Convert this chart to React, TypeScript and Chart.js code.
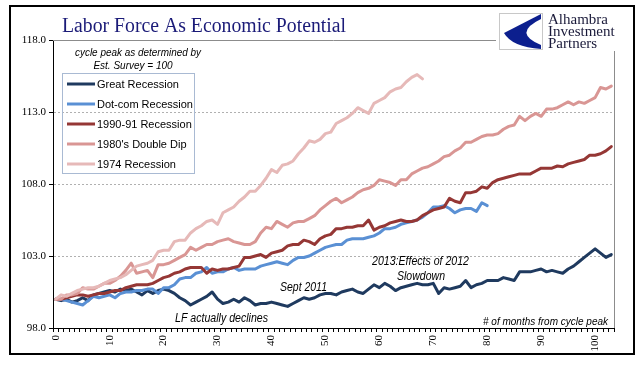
import React, { useEffect, useRef } from 'react';
import { Chart, registerables } from 'chart.js';

Chart.register(...registerables);

const months = [
  0, 1, 2, 3, 4, 5, 6, 7, 8, 9, 10, 11, 12, 13, 14, 15, 16, 17, 18, 19,
  20, 21, 22, 23, 24, 25, 26, 27, 28, 29, 30, 31, 32, 33, 34, 35, 36, 37, 38, 39,
  40, 41, 42, 43, 44, 45, 46, 47, 48, 49, 50, 51, 52, 53, 54, 55, 56, 57, 58, 59,
  60, 61, 62, 63, 64, 65, 66, 67, 68, 69, 70, 71, 72, 73, 74, 75, 76, 77, 78, 79,
  80, 81, 82, 83, 84, 85, 86, 87, 88, 89, 90, 91, 92, 93, 94, 95, 96, 97, 98, 99,
  100, 101, 102, 103,
];

const greatRecession = [
  100.0, 99.9, 100.0, 99.8, 99.9, 100.1, 99.9, 100.3, 100.4, 100.5,
  100.6, 100.5, 100.7, 100.6, 100.7, 100.5, 100.3, 100.6, 100.4, 100.6,
  100.7, 100.6, 100.4, 100.1, 99.9, 99.6, 99.8, 100.0, 100.2, 100.5,
  100.0, 99.7, 99.8, 100.0, 99.8, 100.1, 99.9, 99.6, 99.7, 99.7,
  99.8, 99.7, 99.6, 99.5, 99.7, 99.9, 100.1, 100.0, 100.1, 100.3,
  100.4, 100.4, 100.3, 100.5, 100.6, 100.7, 100.5, 100.4, 100.7, 101.0,
  100.8, 101.1, 100.9, 100.6, 100.8, 100.9, 101.0, 101.1, 101.0, 101.0,
  101.1, 100.4, 100.8, 100.7, 100.8, 100.9, 101.3, 100.8, 101.0, 101.1,
  101.3, 101.3, 101.3, 101.5, 101.4, 101.3, 101.9, 101.9, 101.9, 102.0,
  102.1, 101.9, 102.0, 101.9, 101.8, 102.1, 102.3, 102.6, 102.9, 103.2,
  103.5, 103.2, 102.9, 103.1,
];

const dotCom = [
  100.0, 100.0, 99.9, 99.8, 99.7, 99.6, 99.9, 100.2, 100.1, 100.2,
  100.3, 100.1, 100.4, 100.5, 100.5, 100.6, 100.6, 100.7, 100.7, 100.4,
  100.8, 100.8, 101.0, 101.4, 101.5, 101.5, 101.8, 101.9, 102.2, 101.8,
  101.9, 101.9, 102.1, 102.2, 102.0, 102.1, 102.1, 102.1, 102.3, 102.4,
  102.5, 102.6, 102.5, 102.4, 102.7, 102.9, 102.9, 103.0, 103.2, 103.4,
  103.6, 103.7, 103.8, 103.8, 104.1, 104.2, 104.2, 104.2, 104.3, 104.4,
  104.6, 104.9, 104.9, 105.0, 105.2, 105.3, 105.4, 105.5, 105.7, 106.0,
  106.4, 106.4, 106.5, 106.3, 106.0, 106.2, 106.3, 106.3, 106.1, 106.7,
  106.5,
];

const recession1990 = [
  100.0, 100.0, 100.1, 100.2, 100.3, 100.3, 100.2, 100.3, 100.4, 100.4,
  100.5, 100.6, 100.6, 100.8, 100.9, 101.0, 101.0, 101.0, 101.1, 101.3,
  101.5, 101.6, 101.8, 101.9, 102.1, 102.2, 102.2, 102.2, 101.8, 102.1,
  102.0, 102.1, 102.1, 102.2, 102.3, 102.9, 102.9, 103.0, 103.1, 102.9,
  103.2, 103.3, 103.4, 103.7, 103.8, 103.8, 104.1, 104.0, 103.8, 104.2,
  104.4, 104.5, 104.9, 104.9, 105.0, 105.0, 105.1, 105.1, 105.5, 104.8,
  105.0, 105.1, 105.3, 105.4, 105.5, 105.4, 105.4, 105.5, 105.8, 106.0,
  106.2, 106.3, 106.4, 107.0, 106.8, 106.7, 107.4, 107.4, 107.5, 107.8,
  107.7, 108.1, 108.3, 108.4, 108.5, 108.6, 108.7, 108.7, 108.7, 108.9,
  109.1, 109.1, 109.1, 109.25, 109.2, 109.4, 109.5, 109.6, 109.7, 110.0,
  110.0, 110.1, 110.3, 110.6,
];

const doubleDip1980 = [
  100.0, 100.0, 100.3, 100.3, 100.4, 100.8, 100.7, 100.7, 100.9, 101.1,
  101.1, 101.3, 101.6, 102.0, 102.5, 101.8, 101.9, 102.0, 101.5, 102.4,
  102.4, 102.5, 102.7, 102.9, 103.1, 103.6, 103.4, 103.6, 103.8, 103.8,
  104.0, 104.1, 104.2, 104.0, 103.9, 103.8, 103.8, 104.0, 104.6, 105.0,
  104.9, 105.4, 105.2, 105.0, 105.3, 105.4, 105.4, 105.6, 105.8, 106.2,
  106.5, 106.8, 107.0, 106.7, 106.9, 107.1, 107.4, 107.6, 107.7, 107.9,
  108.3, 108.2, 108.1, 107.9, 108.3, 108.3, 108.7, 108.9, 109.1, 109.2,
  109.4, 109.6, 109.9, 110.0, 110.3, 110.5, 110.9, 110.9, 111.1, 111.3,
  111.4, 111.4, 111.5, 111.8, 112.0, 112.1, 112.7, 112.4, 112.7, 112.9,
  112.7, 113.2, 113.2, 113.3, 113.5, 113.7, 113.5, 113.7, 113.6, 113.8,
  114.0, 114.7, 114.6, 114.8,
];

const recession1974 = [
  100.0, 100.3, 100.2, 100.4, 100.6, 100.7, 100.8, 100.8, 100.9, 101.1,
  101.3, 101.4, 101.5, 101.7, 102.0, 102.3, 102.4, 102.5, 102.7, 103.3,
  103.4, 103.4, 104.0, 104.1, 104.1, 104.6, 104.9, 105.1, 105.4, 105.5,
  105.2, 106.0, 106.2, 106.4, 106.8, 107.1, 107.5, 107.5, 107.9, 108.4,
  109.0, 108.8, 109.3, 109.4, 109.6, 110.1, 110.5, 111.0, 110.9, 111.1,
  111.5, 111.6, 112.2, 112.4, 112.6, 112.9, 113.3, 113.1, 112.9, 113.6,
  113.8, 114.0, 114.4, 114.6, 114.7, 115.1, 115.4, 115.6, 115.3,
];

const seriesNames = ['Great Recession', 'Dot-com Recession', '1990-91 Recession', "1980's Double Dip", '1974 Recession'];
const seriesColors = ['#1f3a5f', '#5a90d4', '#953735', '#d99694', '#e6b9b8'];
const seriesData = [greatRecession, dotCom, recession1990, doubleDip1980, recession1974];
const yTicks = [98, 103, 108, 113, 118];
const xTickLabels = ['0', '10', '20', '30', '40', '50', '60', '70', '80', '90', '100'];

const overlayPlugin = {
  id: 'overlay',
  beforeDraw(chart: any) {
    const ctx = chart.ctx;
    ctx.save();
    ctx.fillStyle = '#ffffff';
    ctx.fillRect(0, 0, chart.width, chart.height);
    ctx.restore();
  },
  afterDraw(chart: any) {
    const ctx = chart.ctx;
    const area = chart.chartArea;
    ctx.save();

    // plot border top / right
    ctx.strokeStyle = '#8c8c8c';
    ctx.lineWidth = 1;
    ctx.beginPath();
    ctx.moveTo(area.left, Math.round(area.top) + 0.5);
    ctx.lineTo(area.right, Math.round(area.top) + 0.5);
    ctx.moveTo(Math.round(area.right) + 0.5, area.top);
    ctx.lineTo(Math.round(area.right) + 0.5, area.bottom);
    ctx.stroke();

    // note above legend
    ctx.fillStyle = '#000000';
    ctx.font = 'italic 10px "Liberation Sans"';
    ctx.textAlign = 'center';
    ctx.textBaseline = 'middle';
    ctx.fillText('cycle peak as determined by', 138, 53, 126);
    ctx.fillText('Est. Survey = 100', 133, 66, 100);

    // legend
    ctx.strokeStyle = '#a9bad3';
    ctx.lineWidth = 1;
    ctx.strokeRect(62.5, 73.5, 132, 100);
    ctx.textAlign = 'left';
    ctx.font = '11px "Liberation Sans"';
    seriesNames.forEach((name, i) => {
      const y = 84 + i * 20;
      ctx.strokeStyle = seriesColors[i];
      ctx.lineWidth = 3;
      ctx.beginPath();
      ctx.moveTo(67, y);
      ctx.lineTo(95, y);
      ctx.stroke();
      ctx.fillStyle = '#000000';
      ctx.fillText(name, 97, y + 0.5);
    });

    // annotations
    ctx.font = 'italic 12px "Liberation Sans"';
    ctx.fillStyle = '#000000';
    ctx.textAlign = 'left';
    ctx.fillText('LF actually declines', 175, 319, 93);
    ctx.fillText('Sept 2011', 280, 288, 47);
    ctx.fillText('2013:Effects of 2012', 372, 262, 97);
    ctx.fillText('Slowdown', 397, 277, 48);
    ctx.font = 'italic 11px "Liberation Sans"';
    ctx.fillText('# of months from cycle peak', 483, 322, 125);

    // logo area
    ctx.fillStyle = '#ffffff';
    ctx.fillRect(496, 8, 134, 43);
    ctx.strokeStyle = '#c8c8c8';
    ctx.lineWidth = 1;
    ctx.strokeRect(499.5, 13.5, 43, 36);
    ctx.fillStyle = '#0c1f8e';
    ctx.beginPath();
    ctx.moveTo(541, 14);
    ctx.lineTo(504, 33);
    ctx.quadraticCurveTo(512, 47, 541, 49);
    ctx.closePath();
    ctx.fill();
    ctx.fillStyle = '#ffffff';
    ctx.beginPath();
    ctx.moveTo(541, 19);
    ctx.quadraticCurveTo(512, 33, 541, 45);
    ctx.closePath();
    ctx.fill();
    ctx.fillStyle = '#1a1a3a';
    ctx.font = '15px "Liberation Serif"';
    ctx.textBaseline = 'alphabetic';
    ctx.fillText('Alhambra', 548, 24);
    ctx.fillText('Investment', 548, 36);
    ctx.fillText('Partners', 548, 48);

    // title
    ctx.fillStyle = '#1b1b78';
    ctx.font = '20px "Liberation Serif"';
    ctx.fillText('Labor Force As Economic Potential', 62, 32, 284);

    // outer frame
    ctx.strokeStyle = '#000000';
    ctx.lineWidth = 2;
    ctx.strokeRect(10, 6, 624, 348);

    ctx.restore();
  },
};

export default function App() {
  const canvasRef = useRef<HTMLCanvasElement | null>(null);

  useEffect(() => {
    const canvas = canvasRef.current;
    if (!canvas) return;
    const order = [5, 4, 3, 2, 1];
    const chart = new Chart(canvas, {
      type: 'line',
      data: {
        labels: months.map(String),
        datasets: seriesNames.map((name, i) => ({
          label: name,
          data: seriesData[i],
          borderColor: seriesColors[i],
          backgroundColor: seriesColors[i],
          borderWidth: 3,
          pointRadius: 0,
          tension: 0,
          fill: false,
          borderJoinStyle: 'round' as const,
          borderCapStyle: 'round' as const,
          order: order[i],
        })),
      },
      options: {
        responsive: false,
        animation: false,
        devicePixelRatio: 1,
        layout: { padding: { top: 40, right: 27, left: 0, bottom: 0 } },
        plugins: {
          legend: { display: false },
          title: { display: false },
          tooltip: { enabled: false },
        },
        scales: {
          x: {
            type: 'category',
            offset: true,
            afterFit: (scale: any) => {
              scale.height = 47;
            },
            grid: {
              display: true,
              drawOnChartArea: false,
              drawTicks: true,
              tickLength: 4,
              tickColor: '#000000',
              offset: true,
            },
            border: { display: true, color: '#000000', width: 1 },
            ticks: {
              autoSkip: false,
              minRotation: 90,
              maxRotation: 90,
              padding: 3,
              color: '#000000',
              font: { family: '"Liberation Serif"', size: 11 },
              callback: (_v: any, index: number) => {
                const lbl = String(months[index]);
                return xTickLabels.includes(lbl) ? lbl : '';
              },
            },
          },
          y: {
            type: 'linear',
            min: 98,
            max: 118,
            afterFit: (scale: any) => {
              scale.width = 53;
            },
            afterBuildTicks: (scale: any) => {
              scale.ticks = yTicks.map((v) => ({ value: v }));
            },
            grid: {
              display: true,
              drawTicks: true,
              tickLength: 4,
              tickColor: '#000000',
              color: (c: any) =>
                c.tick && (c.tick.value === 118 || c.tick.value === 98) ? 'rgba(0,0,0,0)' : '#b0b0b0',
            },
            border: { display: true, color: '#000000', width: 1, dash: [2, 2] },
            ticks: {
              padding: 3,
              color: '#000000',
              font: { family: '"Liberation Serif"', size: 11 },
              callback: (v: any) => Number(v).toFixed(1),
            },
          },
        },
      },
      plugins: [overlayPlugin],
    });
    return () => chart.destroy();
  }, []);

  return (
    <div style={{ position: 'fixed', left: 0, top: 0, width: 641, height: 375, background: '#fff' }}>
      <canvas ref={canvasRef} width={641} height={375} style={{ width: 641, height: 375, display: 'block' }} />
    </div>
  );
}
